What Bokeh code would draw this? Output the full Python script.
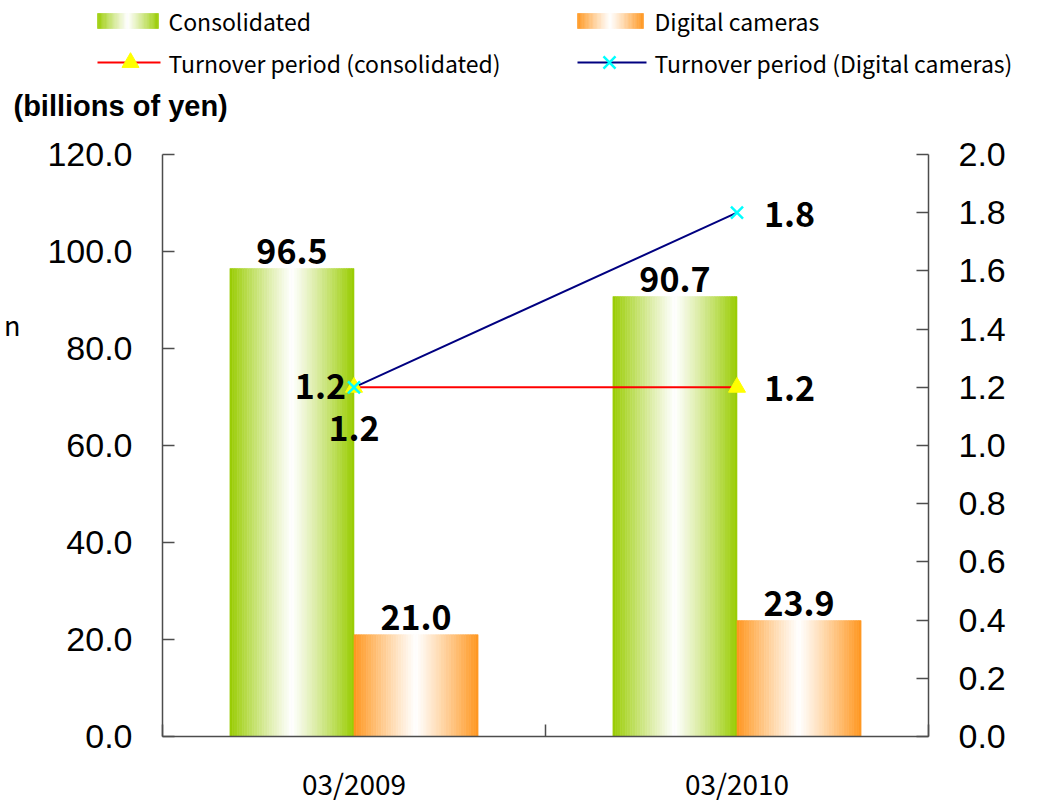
import numpy as np
from bokeh.plotting import figure
from bokeh.models import Range1d, LinearAxis, FixedTicker, ColumnDataSource, NumeralTickFormatter
from bokeh.core.properties import value
from bokeh.embed import file_html
from bokeh.resources import INLINE

# ---------------- data ----------------
categories = ["03/2009", "03/2010"]
consolidated = [96.5, 90.7]
digital_cameras = [21.0, 23.9]
turnover_consolidated = [1.2, 1.2]
turnover_digital = [1.2, 1.8]
left_ticks = [0, 20, 40, 60, 80, 100, 120]
right_ticks = [0.0, 0.2, 0.4, 0.6, 0.8, 1.0, 1.2, 1.4, 1.6, 1.8, 2.0]
series_names = ["Consolidated", "Digital cameras",
                "Turnover period (consolidated)", "Turnover period (Digital cameras)"]
unit_label = "(billions of yen)"
stray_label = "n"

# ---------------- styles ----------------
GREEN = (153, 204, 0)
ORANGE = (255, 150, 30)
JP = value("Noto Sans CJK JP")
AX_FONT = "Liberation Sans"
AX_COLOR = "#4d4d4d"
BAR_W = 0.324
N_STRIPS = 50
TOTAL_W = 1024


def grad_color(base, u):
    t = abs(2 * u - 1) ** 1.1
    r, g, b = (int(round(255 + (c - 255) * t)) for c in base)
    return "#%02x%02x%02x" % (r, g, b)


def gradient_bars(fig, centers, values, offset, width, base):
    xs, tops, colors = [], [], []
    for c, v in zip(centers, values):
        for k in range(N_STRIPS):
            u = (k + 0.5) / N_STRIPS
            xs.append(c + offset - width / 2 + u * width)
            tops.append(v)
            colors.append(grad_color(base, u))
    src = ColumnDataSource(dict(x=xs, top=tops, color=colors))
    fig.vbar(x="x", top="top", bottom=0, width=width / N_STRIPS, fill_color="color",
             line_color="color", line_width=0.6, source=src)


# ---------------- main chart ----------------
n_cat = len(categories)
x_centers = [i + 0.5 for i in range(n_cat)]
boundaries = list(range(n_cat + 1))

p = figure(frame_width=766, frame_height=582, x_range=Range1d(0, n_cat), y_range=Range1d(0, 120),
           output_backend="svg", toolbar_location=None,
           min_border_left=162, min_border_right=TOTAL_W - 162 - 766, min_border_top=24,
           min_border_bottom=70, x_axis_location=None, y_axis_location=None)
p.grid.visible = False
p.outline_line_color = None
p.extra_y_ranges = {"right": Range1d(0, 2)}

yl = LinearAxis(ticker=FixedTicker(ticks=left_ticks), formatter=NumeralTickFormatter(format="0.0"))
yr = LinearAxis(y_range_name="right", ticker=FixedTicker(ticks=right_ticks),
                formatter=NumeralTickFormatter(format="0.0"))
for ax in (yl, yr):
    ax.major_tick_in = 12
    ax.major_tick_out = 0
    ax.minor_tick_line_color = None
    ax.axis_line_color = AX_COLOR
    ax.axis_line_width = 1.5
    ax.major_tick_line_color = AX_COLOR
    ax.major_tick_line_width = 1.5
    ax.major_label_text_font = AX_FONT
    ax.major_label_text_font_size = "34px"
    ax.major_label_text_color = "black"
    ax.major_label_standoff = 30
p.add_layout(yl, "left")
p.add_layout(yr, "right")

# stray fragment of text at the far left edge, carried as an outer axis label
# (a second, blank line with a tall line height lifts the visible line above centre)
yn = LinearAxis(ticker=FixedTicker(ticks=[]))
yn.axis_line_color = None
yn.major_tick_line_color = None
yn.minor_tick_line_color = None
yn.axis_label = stray_label + "\n "
yn.axis_label_orientation = "horizontal"
yn.axis_label_standoff = 24
yn.axis_label_text_font = "Noto Sans CJK JP"
yn.axis_label_text_font_style = "normal"
yn.axis_label_text_font_size = "27px"
yn.axis_label_text_line_height = 6.2
yn.axis_label_text_color = "black"
p.add_layout(yn, "left")

xb = LinearAxis(ticker=FixedTicker(ticks=x_centers, minor_ticks=boundaries))
xb.major_label_overrides = {x: c for x, c in zip(x_centers, categories)}
xb.major_tick_line_color = None
xb.major_tick_in = 0
xb.major_tick_out = 0
xb.minor_tick_in = 12
xb.minor_tick_out = 0
xb.minor_tick_line_color = AX_COLOR
xb.minor_tick_line_width = 1.5
xb.axis_line_color = AX_COLOR
xb.axis_line_width = 1.5
xb.major_label_text_font = "Noto Sans CJK JP"
xb.major_label_text_font_size = "28px"
xb.major_label_text_color = "black"
xb.major_label_standoff = 26
p.add_layout(xb, "below")

gradient_bars(p, x_centers, consolidated, -BAR_W / 2, BAR_W, GREEN)
gradient_bars(p, x_centers, digital_cameras, BAR_W / 2, BAR_W, ORANGE)

# bar value labels
bar_lbl_x = [c - BAR_W / 2 for c in x_centers] + [c + BAR_W / 2 for c in x_centers]
bar_lbl_y = consolidated + digital_cameras
p.text(x=bar_lbl_x, y=bar_lbl_y, text=[f"{v:.1f}" for v in bar_lbl_y], text_align="center",
       text_baseline="alphabetic", y_offset=-17, text_font=JP, text_font_size="34px",
       text_font_style="bold", text_color="black")

# lines
p.line(x_centers, turnover_consolidated, y_range_name="right", line_color="red", line_width=2)
p.line(x_centers, turnover_digital, y_range_name="right", line_color="#000080", line_width=2)
p.scatter(x_centers, turnover_consolidated, y_range_name="right", marker="triangle", size=17,
          fill_color="yellow", line_color="yellow")
p.scatter(x_centers, turnover_digital, y_range_name="right", marker="x", size=17,
          line_color="cyan", line_width=2.5)

lbl_kw = dict(y_range_name="right", text_font=JP, text_font_size="34px", text_font_style="bold",
              text_color="black")
# consolidated: first point label below, second to the right
p.text(x=x_centers[:1], y=turnover_consolidated[:1], text=[f"{turnover_consolidated[0]:.1f}"],
       text_align="center", text_baseline="middle", y_offset=41, **lbl_kw)
p.text(x=x_centers[1:], y=turnover_consolidated[1:], text=[f"{turnover_consolidated[1]:.1f}"],
       text_align="left", text_baseline="middle", x_offset=27, y_offset=1, **lbl_kw)
# digital: first point label left-above, second to the right
p.text(x=x_centers[:1], y=turnover_digital[:1], text=[f"{turnover_digital[0]:.1f}"],
       text_align="right", text_baseline="alphabetic", x_offset=-8, y_offset=-1, **lbl_kw)
p.text(x=x_centers[1:], y=turnover_digital[1:], text=[f"{turnover_digital[1]:.1f}"],
       text_align="left", text_baseline="middle", x_offset=27, y_offset=2, **lbl_kw)

# ---------------- legend / header (separate root, canvas-pixel coordinates) ----------------
LH = 130
lg = figure(width=TOTAL_W, height=LH, x_range=Range1d(0, TOTAL_W), y_range=Range1d(LH, 0),
            output_backend="svg", toolbar_location=None, min_border=0,
            x_axis_location=None, y_axis_location=None)
lg.grid.visible = False
lg.outline_line_color = None

col_x = [97, 577]
row_y = [20.5, 62]
sw_w = [61, 66]
sw_h = 15
line_w = [63, 69]
mark_dx = [33, 32]
text_x = [168, 654]


def swatch(fig, x0, w, yc, base):
    xs = [x0 + (k + 0.5) / N_STRIPS * w for k in range(N_STRIPS)]
    cols = [grad_color(base, (k + 0.5) / N_STRIPS) for k in range(N_STRIPS)]
    fig.rect(x=xs, y=[yc] * N_STRIPS, width=w / N_STRIPS, height=sw_h, fill_color=cols,
             line_color=cols, line_width=0.6)


swatch(lg, col_x[0], sw_w[0], row_y[0], GREEN)
swatch(lg, col_x[1], sw_w[1], row_y[0], ORANGE)
lg.line([col_x[0], col_x[0] + line_w[0]], [row_y[1]] * 2, line_color="red", line_width=2)
lg.scatter([col_x[0] + mark_dx[0]], [row_y[1]], marker="triangle", size=17, fill_color="yellow",
           line_color="yellow")
lg.line([col_x[1], col_x[1] + line_w[1]], [row_y[1]] * 2, line_color="#000080", line_width=2)
lg.scatter([col_x[1] + mark_dx[1]], [row_y[1]], marker="x", size=17, line_color="cyan", line_width=2.5)

lg.text(x=[text_x[0], text_x[1], text_x[0], text_x[1]],
        y=[row_y[0], row_y[0], row_y[1], row_y[1]],
        text=series_names, text_align="left", text_baseline="middle", text_font=JP,
        text_font_size="23px", text_color="black")
lg.text(x=[13], y=[105], text=[unit_label], text_align="left", text_baseline="middle",
        text_font=value(AX_FONT), text_font_size="29px", text_font_style="bold", text_color="black")

roots = [lg, p]
open("out.html", "w").write(file_html(roots, INLINE))
